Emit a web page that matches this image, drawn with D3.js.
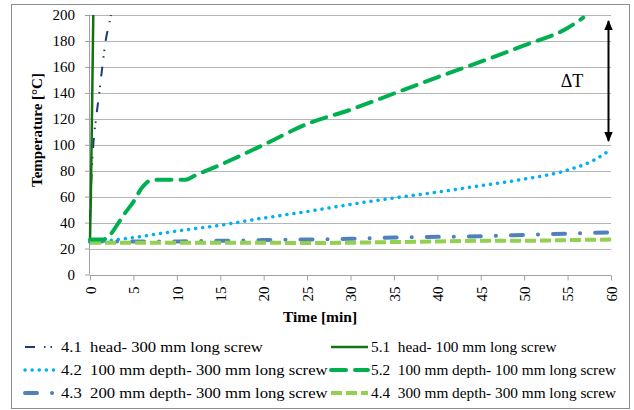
<!DOCTYPE html>
<html><head><meta charset="utf-8">
<script src="https://cdn.jsdelivr.net/npm/d3@7"></script>
<style>body{margin:0;background:#fff}svg{display:block}</style>
</head><body><div id="chart"></div>
<script>
// ---- data ----
const xTicks = [0,5,10,15,20,25,30,35,40,45,50,55,60];
const yTicks = [0,20,40,60,80,100,120,140,160,180,200];

const t41 = [0, 0.08, 0.38, 0.69, 1.07, 1.42, 1.8, 2.4, 2.6];
const v41 = [42, 60, 100, 120, 140, 160, 180, 200, 210];

const t51 = [0, 0.05, 0.1, 0.38, 0.42];
const v51 = [27, 45, 60, 200, 215];

const t42 = [0, 2, 5, 10, 15, 20, 25, 30, 35, 40, 45, 50, 55, 58, 60];
const v42 = [25, 26, 28.5, 33.5, 38, 43.5, 48.5, 54, 59, 63.5, 68.5, 73.5, 80.5, 88, 96.5];

const t52 = [0, 1.5, 2.5, 3, 4, 5, 6, 7, 8, 10, 11, 12, 15, 20, 25, 30, 35, 40, 45, 50, 55, 56.8];
const v52 = [27, 27, 32, 37, 47, 56, 67, 72.5, 73, 73, 73, 76, 84.5, 100, 116, 127, 139.5, 152, 164, 176.5, 190, 198];

const t43 = [0, 5, 10, 15, 20, 25, 30, 35, 40, 45, 50, 55, 60];
const v43 = [25.5, 25.5, 25.5, 26, 26.5, 27, 27.5, 28.5, 29, 29.5, 30.5, 31.5, 32.5];

const t44 = [0, 5, 10, 15, 20, 25, 30, 35, 40, 45, 50, 55, 60];
const v44 = [24.5, 24.5, 24.5, 24.5, 24.5, 24.2, 24.5, 25, 25.5, 26, 26, 26.5, 27];

const seriesNames = ["4.1  head- 300 mm long screw", "5.1  head- 100 mm long screw",
  "4.2  100 mm depth- 300 mm long screw", "5.2  100 mm depth- 100 mm long screw",
  "4.3  200 mm depth- 300 mm long screw", "4.4  300 mm depth- 300 mm long screw"];
const xTitle = "Time [min]";
const yTitle = "Temperature [°C]";
const annotation = "ΔT";

// ---- styles ----
const styles = {
  "4.1": {t: t41, v: v41, color: "#1f3a78", w: 2, dash: "10,9,1.5,5,1.5,9", cap: "butt"},
  "5.1": {t: t51, v: v51, color: "#137313", w: 2.5, dash: null, cap: "butt"},
  "4.2": {t: t42, v: v42, color: "#00b0f0", w: 3.5, dash: "0.1,7", cap: "round"},
  "5.2": {t: t52, v: v52, color: "#00b050", w: 4, dash: "15,9", cap: "round"},
  "4.3": {t: t43, v: v43, color: "#4f81bd", w: 4, dash: "12,15,0.1,15", cap: "round"},
  "4.4": {t: t44, v: v44, color: "#92d050", w: 4, dash: "11,4", cap: "butt"}
};
const drawOrder = ["4.1","4.2","4.3","4.4","5.1","5.2"];

const W = 634, H = 410;
const svg = d3.select("#chart").append("svg").attr("width", W).attr("height", H)
  .style("font-family", "'Liberation Serif','Times New Roman',serif");

svg.append("rect").attr("x", 11.5).attr("y", 4.5).attr("width", 618).attr("height", 404)
  .attr("fill", "#fff").attr("stroke", "#8c8c8c").attr("stroke-width", 1);

const x = d3.scaleLinear().domain([0, 60]).range([90, 611]);
const y = d3.scaleLinear().domain([0, 200]).range([274.5, 15]);

// gridlines
svg.append("g").selectAll("line").data(yTicks.filter(d => d > 0)).join("line")
  .attr("x1", x(0)).attr("x2", x(60)).attr("y1", d => Math.round(y(d)) + 0.5).attr("y2", d => Math.round(y(d)) + 0.5)
  .attr("stroke", "#b4b4b4").attr("stroke-width", 1);

// y axis
const yAxis = svg.append("g").attr("transform", `translate(${x(0)},0)`)
  .call(d3.axisLeft(y).tickValues(yTicks).tickSize(5).tickPadding(10));
yAxis.selectAll("line").attr("stroke", "#a0a0a0");
yAxis.select(".domain").attr("stroke", "#a0a0a0").attr("d", `M-0.5,${y(0)}V${y(200)}`);
yAxis.selectAll("text").attr("font-size", 15).attr("font-family", "'Liberation Serif',serif").attr("fill", "#000");

// x axis
const xAxis = svg.append("g").attr("transform", `translate(0,${Math.round(y(0)) + 0.5})`)
  .call(d3.axisBottom(x).tickValues(xTicks).tickSize(5));
xAxis.selectAll("line").attr("stroke", "#a0a0a0");
xAxis.select(".domain").attr("stroke", "#a0a0a0").attr("d", `M${x(0)},0H${x(60)}`);
xAxis.selectAll("text").attr("font-size", 15).attr("font-family", "'Liberation Serif',serif").attr("fill", "#000")
  .attr("text-anchor", "end").attr("dy", "0.35em")
  .attr("transform", "translate(0,11) rotate(-90)").attr("y", 0).attr("x", 0);

// clip
svg.append("clipPath").attr("id", "clip").append("rect")
  .attr("x", x(0) - 5).attr("y", y(200)).attr("width", x(60) - x(0) + 10).attr("height", y(0) - y(200));

const gLines = svg.append("g").attr("clip-path", "url(#clip)");
drawOrder.forEach(k => {
  const s = styles[k];
  const pts = s.t.map((tt, i) => [tt, s.v[i]]);
  const line = d3.line().x(d => x(d[0])).y(d => y(d[1])).curve(d3.curveMonotoneX);
  gLines.append("path").attr("d", line(pts)).attr("fill", "none")
    .attr("stroke", s.color).attr("stroke-width", s.w)
    .attr("stroke-dasharray", s.dash).attr("stroke-linecap", s.cap);
});

// delta T arrow
const defs = svg.append("defs");
defs.append("marker").attr("id", "ah").attr("viewBox", "0 0 10 10").attr("refX", 9).attr("refY", 5)
  .attr("markerWidth", 5).attr("markerHeight", 4.2).attr("orient", "auto-start-reverse")
  .attr("markerUnits", "strokeWidth").attr("preserveAspectRatio", "none")
  .append("path").attr("d", "M0,0 L10,5 L0,10 z").attr("fill", "#000");
svg.append("line").attr("x1", 608.5).attr("x2", 608.5).attr("y1", 21).attr("y2", 141)
  .attr("stroke", "#000").attr("stroke-width", 2)
  .attr("marker-start", "url(#ah)").attr("marker-end", "url(#ah)");
svg.append("text").attr("x", 572).attr("y", 87).attr("text-anchor", "middle")
  .attr("font-size", 18).text(annotation);

// titles
svg.append("text").attr("x", 320).attr("y", 322).attr("text-anchor", "middle")
  .attr("font-size", 15.5).attr("font-weight", "bold").text(xTitle);
svg.append("text").attr("transform", "translate(42,130) rotate(-90)").attr("text-anchor", "middle")
  .attr("font-size", 15).attr("font-weight", "bold").text(yTitle);

// legend
const legendKeys = ["4.1","5.1","4.2","5.2","4.3","4.4"];
const legend = svg.append("g");
legendKeys.forEach((k, i) => {
  const col = i % 2, row = Math.floor(i / 2);
  const lx = col === 0 ? 25 : 331;
  const ly = 347 + row * 23;
  const s = styles[k];
  const len = col === 0 ? 33 : 37;
  const tx = col === 0 ? 61 : 371;
  const sx = col === 0 ? 1.11 : 1.02;
  legend.append("line").attr("x1", lx).attr("x2", lx + len).attr("y1", ly).attr("y2", ly)
    .attr("stroke", s.color).attr("stroke-width", s.w)
    .attr("stroke-dasharray", s.dash).attr("stroke-linecap", s.cap);
  legend.append("text").attr("transform", `translate(${tx},${ly + 5}) scale(${sx},1)`)
    .attr("font-size", 15).style("white-space", "pre").attr("xml:space", "preserve")
    .text(seriesNames[i]);
});
</script></body></html>
